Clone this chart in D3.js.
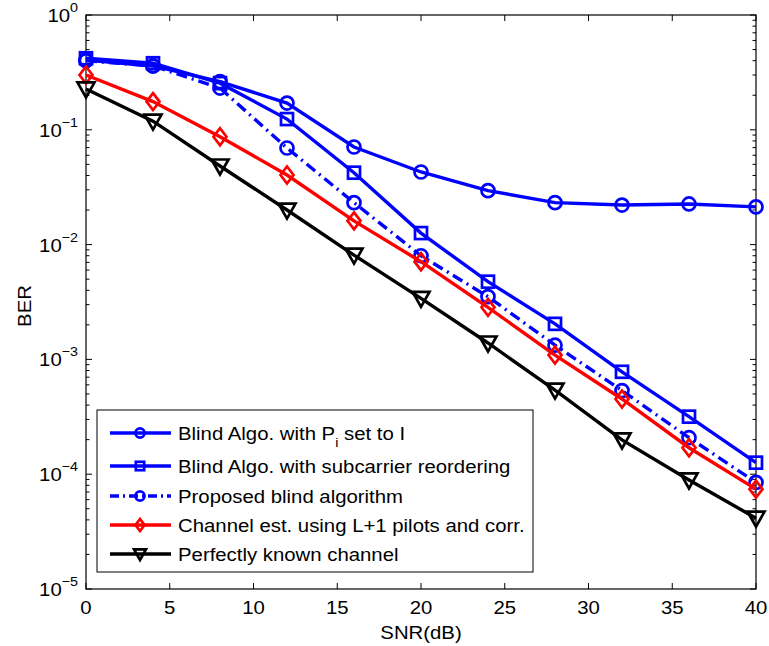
<!DOCTYPE html>
<html><head><meta charset="utf-8">
<script src="https://cdn.jsdelivr.net/npm/d3@7"></script>
<style>body{margin:0;background:#fff;} text{font-family:"Liberation Sans",Arial,sans-serif;}</style>
</head><body><svg id="c" width="769" height="646"></svg>
<script>
const snr = [0,4,8,12,16,20,24,28,32,36,40];
const berPiI = [0.405,0.36,0.263,0.171,0.0708,0.0429,0.0295,0.0232,0.0221,0.0226,0.0213];
const berReorder = [0.42,0.38,0.255,0.124,0.0423,0.0126,0.00475,0.00204,0.00078,0.000317,0.000126];
const berProposed = [0.40,0.36,0.231,0.0694,0.0232,0.0080,0.00352,0.00133,0.000535,0.000208,0.0000848];
const berPilots = [0.30,0.176,0.087,0.0404,0.0161,0.0071,0.00284,0.00109,0.000452,0.000170,0.0000741];
const berKnown = [0.227,0.119,0.0484,0.020,0.0081,0.0034,0.00139,0.00054,0.000199,0.0000891,0.0000414];
const xTicks = [0,5,10,15,20,25,30,35,40];
const yExps = [0,-1,-2,-3,-4,-5];
const legendLabels = ["Blind Algo. with P_i set to I","Blind Algo. with subcarrier reordering","Proposed blind algorithm","Channel est. using L+1 pilots and corr.","Perfectly known channel"];

const series = [
  {name:legendLabels[0], values:berPiI, color:"#0000ff", marker:"circle", dash:null},
  {name:legendLabels[1], values:berReorder, color:"#0000ff", marker:"square", dash:null},
  {name:legendLabels[2], values:berProposed, color:"#0000ff", marker:"circle", dash:"11,5,2,5"},
  {name:legendLabels[3], values:berPilots, color:"#ff0000", marker:"diamond", dash:null},
  {name:legendLabels[4], values:berKnown, color:"#000000", marker:"triangle", dash:null}
];

const FS = 18.5, SX = 1.1;
const svg = d3.select("#c");
// stretched text helper: group at (px,py) scaled horizontally
function stext(parent, px, py, anchor, rot){
  const gg = parent.append("g").attr("transform",`translate(${px},${py})${rot?" rotate("+rot+")":""} scale(${SX},1)`);
  return gg.append("text").attr("x",0).attr("y",0).attr("text-anchor",anchor).attr("font-size",FS);
}

const L=86, R=756, T=15, B=589;
const x = d3.scaleLinear().domain([0,40]).range([L,R]);
const y = d3.scaleLog().domain([1e-5,1]).range([B,T]);

const g = svg.append("g");
xTicks.forEach(t=>{
  g.append("line").attr("x1",x(t)).attr("x2",x(t)).attr("y1",B).attr("y2",B-6).attr("stroke","#000");
  g.append("line").attr("x1",x(t)).attr("x2",x(t)).attr("y1",T).attr("y2",T+6).attr("stroke","#000");
  stext(g, x(t), B+25, "middle").text(t);
});
yExps.forEach(e=>{
  const v = Math.pow(10,e);
  g.append("line").attr("x1",L).attr("x2",L+6).attr("y1",y(v)).attr("y2",y(v)).attr("stroke","#000");
  g.append("line").attr("x1",R).attr("x2",R-6).attr("y1",y(v)).attr("y2",y(v)).attr("stroke","#000");
  if(e<0){
    for(let k=2;k<=9;k++){
      const mv = k*v;
      g.append("line").attr("x1",L).attr("x2",L+3.5).attr("y1",y(mv)).attr("y2",y(mv)).attr("stroke","#000");
      g.append("line").attr("x1",R).attr("x2",R-3.5).attr("y1",y(mv)).attr("y2",y(mv)).attr("stroke","#000");
    }
  }
  const tx = stext(g, L-8, y(v)+7, "end");
  tx.append("tspan").text("10");
  tx.append("tspan").attr("dy",-10).attr("font-size",13).text(e===0?"0":"\u2212"+(-e));
});
svg.append("rect").attr("x",L).attr("y",T).attr("width",R-L).attr("height",B-T).attr("fill","none").attr("stroke","#000").attr("stroke-width",1.2);

stext(svg, (L+R)/2, 639, "middle").text("SNR(dB)");
svg.append("text").attr("transform","translate(31,306) rotate(-90) scale(1.1,1)").attr("text-anchor","middle").attr("font-size",FS).text("BER");

function drawMarker(sel, type, cx, cy, color, s){
  if(type==="circle") sel.append("circle").attr("cx",cx).attr("cy",cy).attr("r",6.5*s).attr("fill","none").attr("stroke",color).attr("stroke-width",2.7);
  else if(type==="square") sel.append("rect").attr("x",cx-6*s).attr("y",cy-6*s).attr("width",12*s).attr("height",12*s).attr("fill","none").attr("stroke",color).attr("stroke-width",2.7);
  else if(type==="diamond") sel.append("path").attr("d",`M${cx},${cy-8.5*s}L${cx+6.5*s},${cy}L${cx},${cy+8.5*s}L${cx-6.5*s},${cy}Z`).attr("fill","none").attr("stroke",color).attr("stroke-width",2.7);
  else if(type==="triangle") sel.append("path").attr("d",`M${cx-8.5*s},${cy-6.5*s}L${cx+8.5*s},${cy-6.5*s}L${cx},${cy+8.5*s}Z`).attr("fill","none").attr("stroke",color).attr("stroke-width",2.7);
}

const line = d3.line().x((d,i)=>x(snr[i])).y(d=>y(d));
const plot = svg.append("g");
series.forEach(s=>{
  plot.append("path").datum(s.values).attr("d",line).attr("fill","none").attr("stroke",s.color).attr("stroke-width",3.4).attr("stroke-dasharray",s.dash);
  s.values.forEach((v,i)=>drawMarker(plot,s.marker,x(snr[i]),y(v),s.color,1));
});

const lg = svg.append("g");
lg.append("rect").attr("x",97).attr("y",410).attr("width",436).attr("height",162).attr("fill","#fff").attr("stroke","#000").attr("stroke-width",1);
const ly = [433,466,496,525,554];
series.forEach((s,i)=>{
  lg.append("line").attr("x1",110).attr("x2",171).attr("y1",ly[i]).attr("y2",ly[i]).attr("stroke",s.color).attr("stroke-width",3.4).attr("stroke-dasharray",s.dash?"9,4,2,4":null);
  drawMarker(lg,s.marker,140,ly[i],s.color,0.7);
  const t = stext(lg, 178, ly[i]+6.5, "start");
  if(s.name.indexOf("P_i")>=0){
    const parts = s.name.split("P_i");
    t.append("tspan").text(parts[0]+"P");
    t.append("tspan").attr("dy",7).attr("font-size",13).text("i");
    t.append("tspan").attr("dy",-7).text(parts[1]);
  } else t.text(s.name);
});
</script></body></html>
